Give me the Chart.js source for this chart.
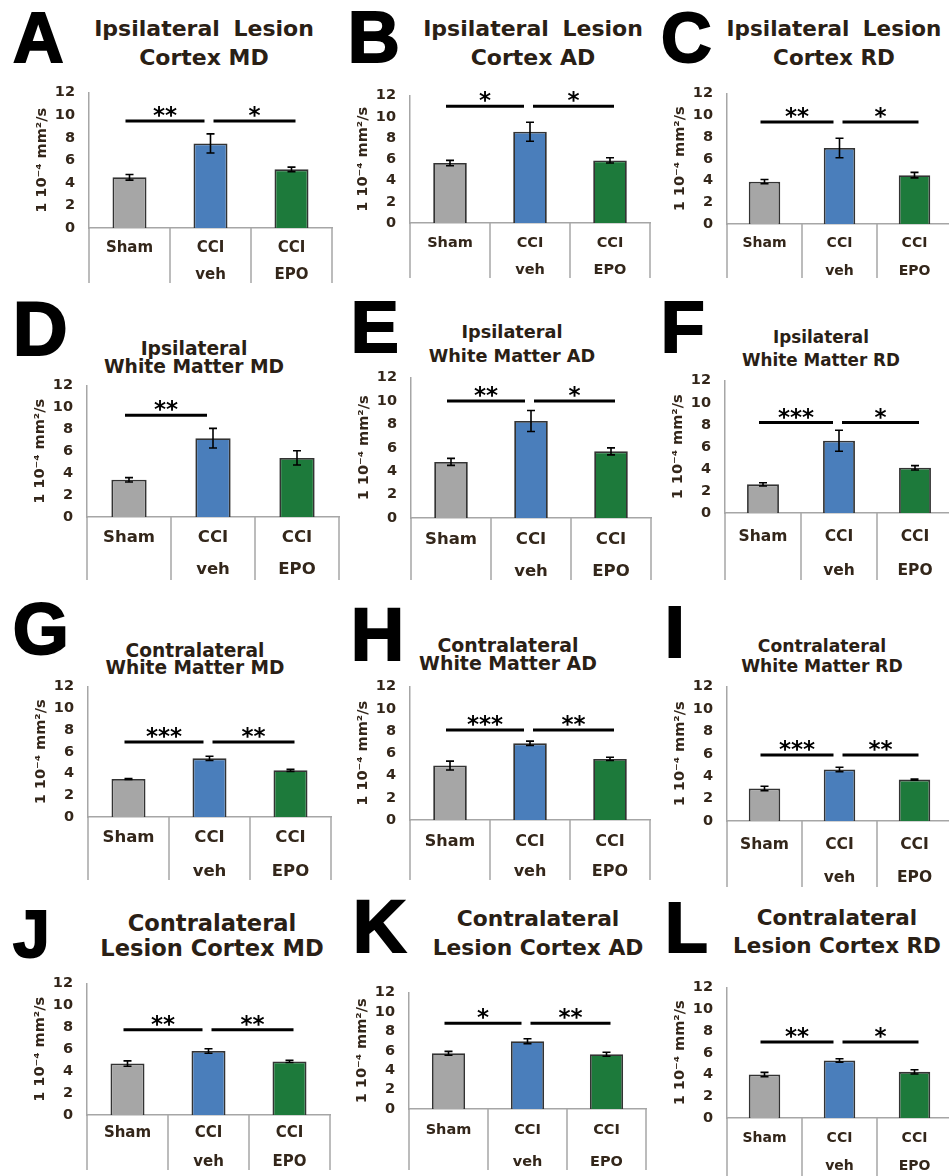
<!DOCTYPE html>
<html>
<head>
<meta charset="utf-8">
<script src="https://cdn.jsdelivr.net/npm/chart.js@4"></script>
<style>
  body { margin: 0; width: 949px; height: 1176px; overflow: hidden; background: #fff; position: relative; }
  canvas { position: absolute; }
  .letter { position: absolute; font-family: "Liberation Sans", Arial, sans-serif; font-weight: bold; line-height: 1; color: #000;
            -webkit-text-stroke: 2px #000; }
  .ttl { position: absolute; font-family: "DejaVu Sans", sans-serif; font-weight: bold; line-height: 1; color: #2a2015;
         white-space: nowrap; transform: translate(-50%, -50%); }
</style>
</head>
<body>
<script>
// ---- data ----
const groups = [["Sham"], ["CCI", "veh"], ["CCI", "EPO"]];
const panelIds = ["A", "B", "C", "D", "E", "F", "G", "H", "I", "J", "K", "L"];
const panelTitles = [
  ["Ipsilateral Lesion", "Cortex MD"],
  ["Ipsilateral Lesion", "Cortex AD"],
  ["Ipsilateral Lesion", "Cortex RD"],
  ["Ipsilateral", "White Matter MD"],
  ["Ipsilateral", "White Matter AD"],
  ["Ipsilateral", "White Matter RD"],
  ["Contralateral", "White Matter MD"],
  ["Contralateral", "White Matter AD"],
  ["Contralateral", "White Matter RD"],
  ["Contralateral", "Lesion Cortex MD"],
  ["Contralateral", "Lesion Cortex AD"],
  ["Contralateral", "Lesion Cortex RD"]
];
const yLabel = "1 10⁻⁴ mm²/s";
const yMin = 0, yMax = 12, yStep = 2;

// mean values: Sham, CCI veh, CCI EPO
const means = [
  [4.5, 7.5, 5.2],
  [5.65, 8.6, 5.9],
  [3.9, 7.0, 4.5],
  [3.4, 7.2, 5.4],
  [4.8, 8.3, 5.7],
  [2.6, 6.55, 4.1],
  [3.5, 5.4, 4.3],
  [4.9, 6.9, 5.5],
  [2.9, 4.6, 3.7],
  [4.7, 5.85, 4.9],
  [5.75, 7.0, 5.65],
  [4.0, 5.3, 4.25]
];
// error bar half-lengths
const errs = [
  [0.25, 0.85, 0.2],
  [0.25, 0.9, 0.25],
  [0.2, 0.9, 0.25],
  [0.2, 0.9, 0.65],
  [0.3, 0.9, 0.3],
  [0.15, 0.95, 0.2],
  [0.05, 0.2, 0.1],
  [0.4, 0.2, 0.15],
  [0.2, 0.2, 0.05],
  [0.25, 0.2, 0.1],
  [0.2, 0.25, 0.2],
  [0.2, 0.15, 0.2]
];
// significance bar height (axis units) and stars: [Sham vs veh, veh vs EPO]
const sigLevels = [9.5, 11.0, 9.4, 9.3, 10.0, 8.2, 6.9, 8.1, 5.9, 7.8, 8.85, 7.0];
const sigStars = [
  ["**", "*"], ["*", "*"], ["**", "*"],
  ["**", null], ["**", "*"], ["***", "*"],
  ["***", "**"], ["***", "**"], ["***", "**"],
  ["**", "**"], ["*", "**"], ["**", "*"]
];
const barColors = ["#a6a6a6", "#4a7ebb", "#1d7a3b"];

// ---- layout of each panel on the page ----
// ax: y-axis x, y12/y0: pixel of top/zero, cw: category width, bot: table bottom,
// r1/r2: label rows, cf: label font, tx/t1/t2/tf: title, lx/ly/lf: panel letter
const layout = [
  {ax: 89,  y12: 82,  y0: 228,  cw: 81, bot: 283,  r1: 248,  r2: 275,  cf: 15,   tx: 204, t1: 29,  t2: 58,  tf: 22,   ws: 6, lx: 15,  ly: 12,  lf: 70},
  {ax: 410, y12: 85,  y0: 223,  cw: 80, bot: 278,  r1: 243,  r2: 270,  cf: 14.5, tx: 533, t1: 29,  t2: 58,  tf: 22,   ws: 6, lx: 350, ly: 10,  lf: 72},
  {ax: 727, y12: 83,  y0: 224,  cw: 75, bot: 278,  r1: 243,  r2: 271,  cf: 14,   tx: 834, t1: 29,  t2: 58,  tf: 21.5, ws: 6, lx: 663, ly: 12,  lf: 70},
  {ax: 87,  y12: 375, y0: 517,  cw: 84, bot: 580,  r1: 538,  r2: 570,  cf: 16.5, tx: 194, t1: 349, t2: 367, tf: 18.7, ws: 0, lx: 15,  ly: 301, lf: 76},
  {ax: 411, y12: 367, y0: 518,  cw: 80, bot: 580,  r1: 540,  r2: 572,  cf: 16.5, tx: 512, t1: 333, t2: 357, tf: 17.7, ws: 0, lx: 353, ly: 300, lf: 72},
  {ax: 725, y12: 370, y0: 513,  cw: 76, bot: 580,  r1: 537,  r2: 571,  cf: 15.5, tx: 821, t1: 337, t2: 360, tf: 16.8, ws: 0, lx: 663, ly: 300, lf: 72},
  {ax: 88,  y12: 676, y0: 817,  cw: 81, bot: 880,  r1: 838,  r2: 872,  cf: 16.5, tx: 195, t1: 651, t2: 668, tf: 18.6, ws: 0, lx: 15,  ly: 602, lf: 72},
  {ax: 410, y12: 676, y0: 820,  cw: 80, bot: 880,  r1: 842,  r2: 872,  cf: 16,   tx: 508, t1: 645, t2: 663, tf: 18.9, ws: 0, lx: 353, ly: 608, lf: 74},
  {ax: 727, y12: 676, y0: 821,  cw: 75, bot: 887,  r1: 845,  r2: 878,  cf: 15.5, tx: 822, t1: 647, t2: 667, tf: 17.2, ws: 0, lx: 667, ly: 605, lf: 72},
  {ax: 87,  y12: 973, y0: 1115, cw: 81, bot: 1170, r1: 1133, r2: 1162, cf: 15,   tx: 212, t1: 923, t2: 948, tf: 22.6, ws: 0, lx: 15,  ly: 910, lf: 66},
  {ax: 409, y12: 982, y0: 1109, cw: 79, bot: 1170, r1: 1130, r2: 1162, cf: 14.5, tx: 538, t1: 919, t2: 948, tf: 21.8, ws: 0, lx: 355, ly: 900, lf: 74},
  {ax: 727, y12: 977, y0: 1118, cw: 75, bot: 1185, r1: 1138, r2: 1166, cf: 14,   tx: 837, t1: 918, t2: 946, tf: 21.5, ws: 0, lx: 667, ly: 902, lf: 70}
];

const yAxisW = 62;   // room for tick labels + rotated title
const topPad = 12;
const textCol = "#33261a";
const lineCol = "#a6a6a6";

Chart.defaults.font.family = '"DejaVu Sans", sans-serif';

// error bars, significance bars and the category "table" lines
const extras = {
  id: "extras",
  afterDatasetsDraw(chart, args, opts) {
    const ctx = chart.ctx;
    const y = chart.scales.y;
    const bars = chart.getDatasetMeta(0).data;
    const vals = chart.data.datasets[0].data;
    ctx.save();
    ctx.strokeStyle = "#000";
    ctx.lineWidth = 1.6;
    opts.err.forEach((e, i) => {
      const x = bars[i].x;
      const yt = y.getPixelForValue(vals[i] + e);
      const yb = y.getPixelForValue(vals[i] - e);
      ctx.beginPath();
      ctx.moveTo(x, yt); ctx.lineTo(x, yb);
      ctx.moveTo(x - 4, yt); ctx.lineTo(x + 4, yt);
      ctx.moveTo(x - 4, yb); ctx.lineTo(x + 4, yb);
      ctx.stroke();
    });

    const ys = y.getPixelForValue(opts.level);
    ctx.lineWidth = 3;
    ctx.fillStyle = "#000";
    ctx.font = 'bold 23px "DejaVu Sans"';
    ctx.textAlign = "center";
    ctx.textBaseline = "alphabetic";
    opts.stars.forEach((s, k) => {
      if (!s) return;
      const xa = bars[k].x + (k ? 3 : -4);
      const xb = bars[k + 1].x + (k ? 4 : -6);
      ctx.beginPath();
      ctx.moveTo(xa, ys); ctx.lineTo(xb, ys);
      ctx.stroke();
      ctx.fillText(s, (xa + xb) / 2, ys + 2);
    });
    ctx.restore();
  },
  afterDraw(chart) {
    const ctx = chart.ctx;
    const x = chart.scales.x;
    const area = chart.chartArea;
    ctx.save();
    ctx.strokeStyle = lineCol;
    ctx.lineWidth = 1.5;
    for (let k = 0; k <= groups.length; k++) {
      const px = Math.round(x.getPixelForValue(k - 0.5));
      ctx.beginPath();
      ctx.moveTo(px, area.bottom);
      ctx.lineTo(px, chart.height);
      ctx.stroke();
    }
    ctx.restore();
  }
};

panelIds.forEach((id, p) => {
  const L = layout[p];

  // panel letter
  const letter = document.createElement("div");
  letter.className = "letter";
  letter.textContent = id;
  letter.style.fontSize = L.lf + "px";
  letter.style.left = (L.lx - 0.03 * L.lf) + "px";
  letter.style.top = (L.ly - 0.13 * L.lf) + "px";
  document.body.appendChild(letter);

  // two-line title (only the first line of A-C has the wide gap)
  [L.t1, L.t2].forEach((ty, k) => {
    const t = document.createElement("div");
    t.className = "ttl";
    t.textContent = panelTitles[p][k];
    t.style.fontSize = L.tf + "px";
    t.style.wordSpacing = (k === 0 ? L.ws : 0) + "px";
    t.style.left = L.tx + "px";
    t.style.top = ty + "px";
    document.body.appendChild(t);
  });

  // chart canvas
  const canvas = document.createElement("canvas");
  const tableH = L.bot - L.y0;
  canvas.width = yAxisW + 3 * L.cw + 4;
  canvas.height = (L.y0 - L.y12 + topPad) + tableH;
  canvas.style.left = (L.ax - yAxisW) + "px";
  canvas.style.top = (L.y12 - topPad) + "px";
  document.body.appendChild(canvas);

  const rowGap = L.r2 - L.r1;

  new Chart(canvas, {
    type: "bar",
    data: {
      labels: groups,
      datasets: [{
        data: means[p],
        backgroundColor: barColors,
        borderColor: "#333333",
        borderWidth: 1.8,
        barPercentage: 0.42,
        categoryPercentage: 1
      }]
    },
    options: {
      responsive: false,
      animation: false,
      events: [],
      layout: { padding: { top: topPad, right: 4, left: 0, bottom: 0 } },
      plugins: {
        legend: { display: false },
        tooltip: { enabled: false },
        extras: { err: errs[p], level: sigLevels[p], stars: sigStars[p] }
      },
      scales: {
        x: {
          offset: true,
          grid: { display: false, drawTicks: false },
          border: { display: true, color: lineCol, width: 1.5 },
          ticks: {
            autoSkip: false,
            maxRotation: 0,
            minRotation: 0,
            color: textCol,
            padding: L.r1 - L.y0 - rowGap / 2,
            font: { size: L.cf, weight: "bold", lineHeight: rowGap + "px" }
          },
          afterFit(s) { s.height = tableH; }
        },
        y: {
          min: yMin,
          max: yMax,
          grid: { display: false, drawTicks: false },
          border: { display: true, color: lineCol, width: 1.5 },
          ticks: {
            stepSize: yStep,
            autoSkip: false,
            color: textCol,
            padding: 14,
            font: { size: 14.5, weight: "bold" }
          },
          title: {
            display: true,
            text: yLabel,
            color: textCol,
            padding: { top: 7, bottom: 0 },
            font: { size: 14.5, weight: "bold" }
          },
          afterFit(s) { s.width = yAxisW; }
        }
      }
    },
    plugins: [extras]
  });
});
</script>
</body>
</html>
